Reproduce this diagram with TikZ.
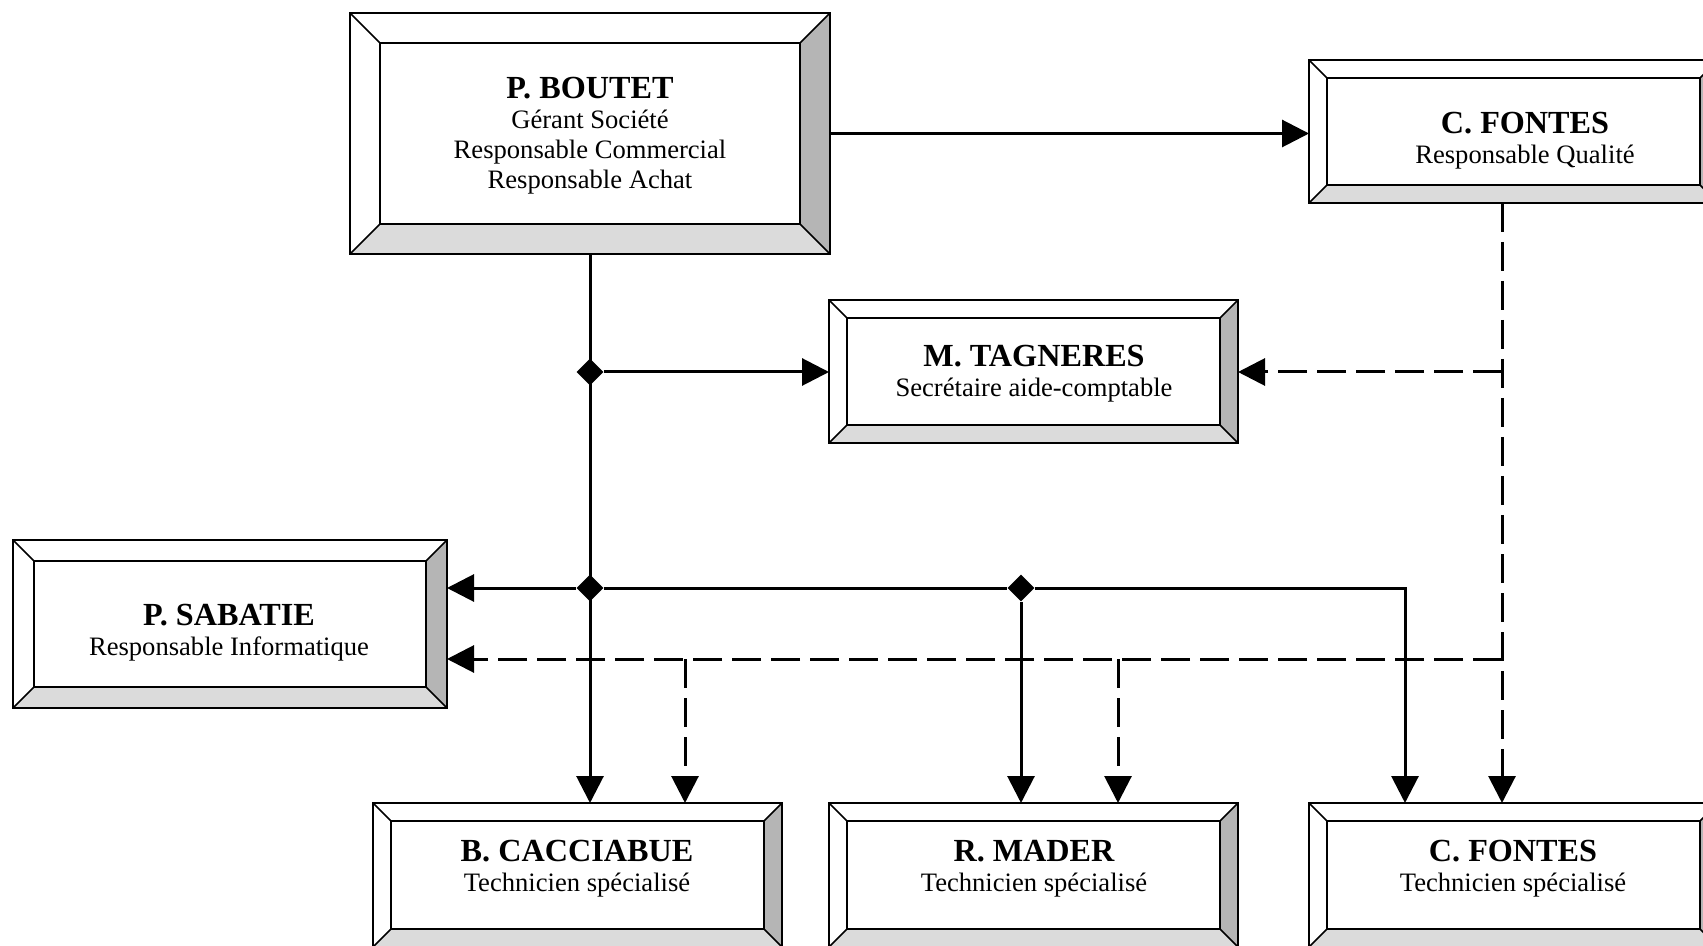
\documentclass[tikz,border=0pt]{standalone}
\usepackage{fontspec}
\setmainfont{Liberation Serif}
\usepackage{xcolor}
\usepackage{tikz}
\usetikzlibrary{arrows.meta,shapes.geometric,fit}

\definecolor{bevellight}{gray}{0.86}
\definecolor{beveldark}{gray}{0.71}

\tikzset{
	frame/.style={draw, line width=1pt, inner sep=0pt, outer sep=0pt},
	edge line/.style={line width=0.8pt},
	wire/.style={line width=1.5pt},
	link/.style={wire, -{Triangle[length=13.5pt,width=13.5pt]}},
	dashlink/.style={link, dash pattern=on 14.5pt off 5pt},
	junction/.style={diamond, fill=black, inner sep=0pt, minimum size=13.5pt},
	textblock/.style={align=center, inner sep=0pt, font=\fontsize{13.3}{15}\selectfont}
}
\newcommand{\person}[1]{{\fontsize{16.1}{16}\selectfont\bfseries #1}}

\begin{document}
\begin{tikzpicture}[x=0.5pt,y=-0.5pt]
	\useasboundingbox (0,0) rectangle (1703,946);
	\clip (0,0) rectangle (1703,946);

	% bevelled boxes: name/left/top/right/bottom/bevel
	\foreach \n/\xa/\ya/\xb/\yb/\b in {boutet/350/13/830/254/30, qualite/1309/60/1718/203/18, tagneres/829/300/1238/443/18, sabatie/13/540/447/708/21, cacciabue/373/803/782/947/18, mader/829/803/1238/947/18, fontes/1309/803/1718/947/18}
	{
		\fill[bevellight] (\xa,\yb) -- (\xb,\yb) -- (\xb-\b,\yb-\b) -- (\xa+\b,\yb-\b) -- cycle;
		\fill[beveldark] (\xb,\ya) -- (\xb,\yb) -- (\xb-\b,\yb-\b) -- (\xb-\b,\ya+\b) -- cycle;
		\draw[edge line] (\xa+\b,\ya+\b) rectangle (\xb-\b,\yb-\b);
		\draw[edge line] (\xa,\ya) -- (\xa+\b,\ya+\b);
		\draw[edge line] (\xb,\ya) -- (\xb-\b,\ya+\b);
		\draw[edge line] (\xa,\yb) -- (\xa+\b,\yb-\b);
		\draw[edge line] (\xb,\yb) -- (\xb-\b,\yb-\b);
		\node[frame, fit={(\xa,\ya) (\xb,\yb)}] (\n) {};
	}

	\node[textblock] (boutet-text) at (590,136) {\person{P. BOUTET}\\ Gérant Société\\ Responsable Commercial\\ Responsable Achat};
	\node[textblock] (qualite-text) at (1525,141) {\person{C. FONTES}\\ Responsable Qualité};
	\node[textblock] (tagneres-text) at (1034,374) {\person{M. TAGNERES}\\ Secrétaire aide-comptable};
	\node[textblock] (sabatie-text) at (229,633) {\person{P. SABATIE}\\ Responsable Informatique};
	\node[textblock] (cacciabue-text) at (577,869) {\person{B. CACCIABUE}\\ Technicien spécialisé};
	\node[textblock] (mader-text) at (1034,869) {\person{R. MADER}\\ Technicien spécialisé};
	\node[textblock] (fontes-text) at (1513,869) {\person{C. FONTES}\\ Technicien spécialisé};

	\node[junction] (j1) at (590,372) {};
	\node[junction] (j2) at (590,588) {};
	\node[junction] (j3) at (1021,588) {};
	\coordinate (k1) at (1405,588);
	\coordinate (d0) at (1502,203);
	\coordinate (d1) at (1502,372);
	\coordinate (d2) at (1502,659);
	\coordinate (d3) at (685,659);
	\coordinate (d4) at (1118,659);

	\draw[link] (boutet.east) -- (boutet.east -| qualite.west);
	\draw[link] (boutet.south) -- (boutet.south |- cacciabue.north);
	\draw[link] (j1) -- (j1 -| tagneres.west);
	\draw[link] (j2) -- (j2 -| sabatie.east);
	\draw[wire] (j2) -- (j3);
	\draw[link] (j3) -- (j3 |- mader.north);
	\draw[link] (j3) -- (k1) -- (k1 |- fontes.north);

	\draw[dashlink] (d0) -- (d0 |- fontes.north);
	\draw[dashlink] (d1) -- (d1 -| tagneres.east);
	\draw[dashlink] (d2) -- (d2 -| sabatie.east);
	\draw[dashlink] (d3) -- (d3 |- cacciabue.north);
	\draw[dashlink] (d4) -- (d4 |- mader.north);
\end{tikzpicture}
\end{document}
